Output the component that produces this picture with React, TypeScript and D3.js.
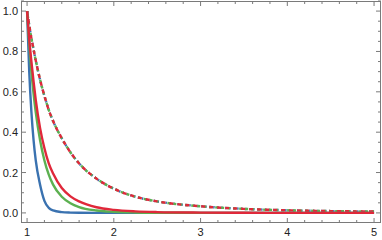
import React from "react";
import * as d3 from "d3";

const xs = [1.0, 1.025, 1.05, 1.075, 1.1, 1.15, 1.2, 1.25, 1.3, 1.4, 1.5, 1.6, 1.8, 2.0, 2.25, 2.5, 3.0, 3.5, 4.0, 4.5, 5.0];

const blueVals = [1.0, 0.7, 0.5, 0.36, 0.26, 0.14, 0.06, 0.025, 0.012, 0.004, 0.0015, 0.0006, 0.0001, 0.0, 0.0, 0.0, 0.0, 0.0, 0.0, 0.0, 0.0];
const greenVals = [1.0, 0.835, 0.7, 0.59, 0.5, 0.36, 0.26, 0.19, 0.14, 0.08, 0.048, 0.029, 0.012, 0.0055, 0.0022, 0.001, 0.0003, 0.0001, 0.0, 0.0, 0.0];
const redVals = [1.0, 0.86, 0.75, 0.65, 0.56, 0.42, 0.32, 0.245, 0.195, 0.123, 0.082, 0.057, 0.028, 0.015, 0.0075, 0.004, 0.0014, 0.0005, 0.0002, 0.0001, 0.0001];
// the three dashed curves lie on top of each other
const tailVals = [1.0, 0.93, 0.865, 0.81, 0.755, 0.66, 0.58, 0.51, 0.455, 0.37, 0.3, 0.245, 0.17, 0.12, 0.08, 0.057, 0.033, 0.02, 0.013, 0.009, 0.007];

const xTicks = [1, 2, 3, 4, 5];
const yTicks = [0, 0.2, 0.4, 0.6, 0.8, 1.0];

const W = 382;
const H = 240;
const left = 21, right = 381, top = 1, bottom = 223;

const x = d3.scaleLinear().domain([0.93, 5.08]).range([left, right]);
const y = d3.scaleLinear().domain([-0.05, 1.05]).range([bottom, top]);

const line = (vals: number[]) =>
  d3
    .line<number>()
    .x((_, i) => x(xs[i]))
    .y((d) => y(d))
    .curve(d3.curveMonotoneX)(vals) || "";

const BLUE = "#3a72b0";
const GREEN = "#5cb050";
const RED = "#e0283a";
const FRAME = "#7a7a7a";

export default function App() {
  const xMinor = d3.range(1, 5.01, 0.2).filter((v) => Math.abs(v - Math.round(v)) > 0.01);
  const yMinor = d3.range(0, 1.051, 0.05).filter((v) => Math.abs(v * 5 - Math.round(v * 5)) > 0.01);

  return (
    <svg width={W} height={H} style={{ position: "absolute", left: 0, top: 0 }} fontFamily="Liberation Sans, Arial, sans-serif">
      <defs>
        <clipPath id="plot">
          <rect x={left} y={top} width={right - left} height={bottom - top} />
        </clipPath>
      </defs>
      <rect x={0} y={0} width={W} height={H} fill="#fff" />

      <g clipPath="url(#plot)" fill="none" strokeWidth={2.4}>
        <path d={line(tailVals)} stroke={BLUE} strokeDasharray="1.5,2.5" />
        <path d={line(tailVals)} stroke={GREEN} strokeDasharray="3,3" strokeDashoffset={2} />
        <path d={line(tailVals)} stroke={RED} strokeDasharray="4,4" />
        <path d={line(blueVals)} stroke={BLUE} />
        <path d={line(greenVals)} stroke={GREEN} />
        <path d={line(redVals)} stroke={RED} />
      </g>

      {/* frame */}
      <rect x={left + 0.5} y={top + 0.5} width={right - left - 1} height={bottom - top - 1} fill="none" stroke={FRAME} />

      <g stroke={FRAME} strokeWidth={1}>
        {xTicks.map((t) => (
          <g key={"xt" + t}>
            <line x1={x(t)} x2={x(t)} y1={bottom} y2={bottom - 5} />
            <line x1={x(t)} x2={x(t)} y1={top} y2={top + 5} />
          </g>
        ))}
        {xMinor.map((t) => (
          <g key={"xm" + t}>
            <line x1={x(t)} x2={x(t)} y1={bottom} y2={bottom - 3} />
            <line x1={x(t)} x2={x(t)} y1={top} y2={top + 3} />
          </g>
        ))}
        {yTicks.map((t) => (
          <g key={"yt" + t}>
            <line x1={left} x2={left + 5} y1={y(t)} y2={y(t)} />
            <line x1={right} x2={right - 5} y1={y(t)} y2={y(t)} />
          </g>
        ))}
        {yMinor.map((t) => (
          <g key={"ym" + t}>
            <line x1={left} x2={left + 3} y1={y(t)} y2={y(t)} />
            <line x1={right} x2={right - 3} y1={y(t)} y2={y(t)} />
          </g>
        ))}
      </g>

      <g fontSize={11} fill="#222">
        {xTicks.map((t) => (
          <text key={"xl" + t} x={x(t)} y={bottom + 13} textAnchor="middle">
            {t}
          </text>
        ))}
        {yTicks.map((t) => (
          <text key={"yl" + t} x={left - 3} y={y(t) + 4} textAnchor="end">
            {t.toFixed(1)}
          </text>
        ))}
      </g>
    </svg>
  );
}
